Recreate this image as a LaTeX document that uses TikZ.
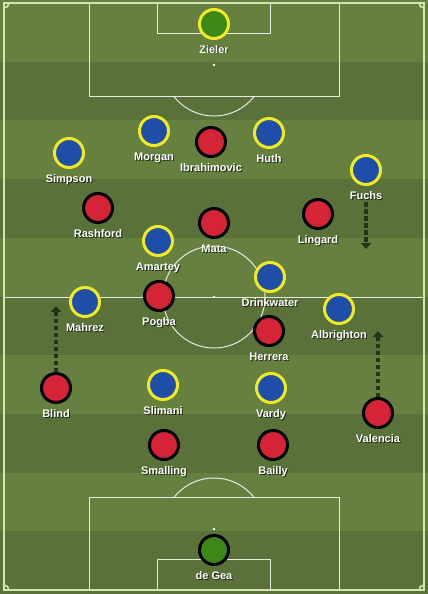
\documentclass[tikz,border=0pt]{standalone}
\usepackage{fontspec}
\setmainfont{Liberation Sans}
\usetikzlibrary{calc,positioning,arrows.meta}
\definecolor{grasslight}{RGB}{102,128,64}
\definecolor{grassdark}{RGB}{90,114,58}
\definecolor{foxblue}{RGB}{30,78,168}
\definecolor{foxyellow}{RGB}{240,234,36}
\definecolor{devilred}{RGB}{212,36,54}
\definecolor{keepergreen}{RGB}{60,135,26}
\definecolor{runcol}{RGB}{36,52,24}
\definecolor{edgeline}{RGB}{214,230,178}

\begin{document}
\begin{tikzpicture}[x=1pt,y=-1pt,
  pitchline/.style={draw=white,opacity=.85,line width=1pt},
  boundary/.style={draw=edgeline,line width=1.6pt},
  kit/.style={circle,minimum size=29pt,inner sep=0pt,line width=3pt},
  foxes/.style={kit,fill=foxblue,draw=foxyellow},
  foxkeeper/.style={kit,fill=keepergreen,draw=foxyellow},
  devils/.style={kit,fill=devilred,draw=black},
  devilkeeper/.style={kit,fill=keepergreen,draw=black},
  pname/.style={inner sep=0pt,anchor=base,text=white,font=\bfseries\fontsize{11}{13}\selectfont},
  pshadow/.style={pname,text=black,opacity=.65},
  runarrow/.style={draw=runcol,line width=3.4pt,dash pattern=on 4.5pt off 2.5pt,
    -{Triangle[length=6pt,width=10pt]}}]
  \useasboundingbox (0,0) rectangle (428,594);
  % grass stripes
  \fill[grasslight] (0,0) rectangle (428,594);
  \foreach \i [evaluate=\i as \ya using {3+58.7*\i},
               evaluate=\i as \yb using {\i==9 ? 594 : 3+58.7*(\i+1)}] in {1,3,5,7,9}{
    \fill[grassdark] (0,\ya) rectangle (428,\yb);
  }
  % markings
  \draw[pitchline] (4,297) -- (424,297);
  \draw[pitchline] (214,297) circle (51);
  \draw[pitchline] (89,3) rectangle (339,96);
  \draw[pitchline] (157,3) rectangle (270,34);
  \draw[pitchline] (89,590) rectangle (339,497);
  \draw[pitchline] (157,590) rectangle (270,559);
  \foreach \p in {(214,297),(214,65),(214,529)}{\fill[white] \p circle (1.4);}
  \begin{scope}
    \clip (0,96) rectangle (428,200);
    \draw[pitchline] (214,65) circle (51);
  \end{scope}
  \begin{scope}
    \clip (0,400) rectangle (428,497);
    \draw[pitchline] (214,529) circle (51);
  \end{scope}
  \draw[boundary] (4,3) rectangle (424,590);
  \begin{scope}
    \clip (4,3) rectangle (424,590);
    \foreach \c in {(4,3),(424,3),(4,590),(424,590)}{\draw[boundary] \c circle (5);}
  \end{scope}
  % players
  \foreach \id/\txt/\x/\y/\team in {
      Zieler/Zieler/214/24/foxkeeper, Simpson/Simpson/69/153/foxes,
      Morgan/Morgan/154/131/foxes, Huth/Huth/269/133/foxes,
      Fuchs/Fuchs/366/170/foxes, Amartey/Amartey/158/241/foxes,
      Drinkwater/Drinkwater/270/277/foxes, Mahrez/Mahrez/85/302/foxes,
      Albrighton/Albrighton/339/309/foxes, Slimani/Slimani/163/385/foxes,
      Vardy/Vardy/271/388/foxes,
      deGea/de Gea/214/550/devilkeeper, Ibrahimovic/Ibrahimovic/211/142/devils,
      Rashford/Rashford/98/208/devils, Mata/Mata/214/223/devils,
      Lingard/Lingard/318/214/devils, Pogba/Pogba/159/296/devils,
      Herrera/Herrera/269/331/devils, Blind/Blind/56/388/devils,
      Valencia/Valencia/378/413/devils, Smalling/Smalling/164/445/devils,
      Bailly/Bailly/273/445/devils}{
    \node[\team] (p\id) at (\x,\y) {};
    \node[pshadow] (s\id) at ([xshift=1pt,yshift=-30pt]p\id.center) {\txt};
    \node[pname] (n\id) at ([yshift=-29pt]p\id.center) {\txt};
  }
  % runs
  \coordinate (fuchsTo) at (366,249);
  \coordinate (blindTo) at (56,306);
  \coordinate (valenciaTo) at (378,331);
  \draw[runarrow] ([yshift=-3pt]nFuchs.south) -- (fuchsTo);
  \draw[runarrow] (pBlind.north) -- (blindTo);
  \draw[runarrow] (pValencia.north) -- (valenciaTo);
\end{tikzpicture}
\end{document}
